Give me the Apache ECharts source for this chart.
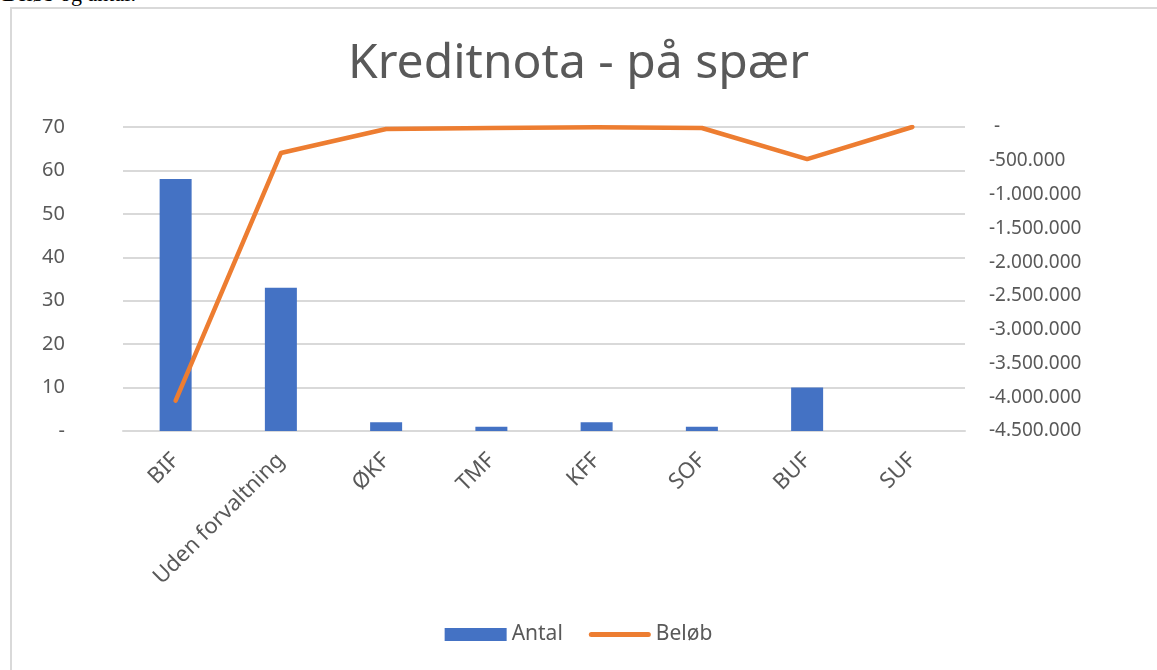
<!DOCTYPE html>
<html>
<head>
    <meta charset="utf-8">
    <title>Kreditnota - på spær</title>
    <style>
        html, body { margin: 0; padding: 0; background: #fff; overflow: hidden; }
        #note { position: absolute; left: 2px; top: -19px; font-family: "Liberation Serif", serif; font-size: 22px; color: #000; }
        #frame { position: absolute; left: 10px; top: 7px; width: 1170px; height: 680px; border: 2px solid #d9d9d9; box-sizing: border-box; }
        #main { position: absolute; left: 0; top: 0; width: 1157px; height: 670px; }
    </style>
</head>
<body>
<script src="https://cdn.jsdelivr.net/npm/echarts@6/dist/echarts.min.js" type="text/javascript" charset="utf-8"></script>
<div id="note">Beløb og antal:</div>
<div id="frame"></div>
<div id="main"></div>
<script type="text/javascript">
    // data
    var categories = ['BIF', 'Uden forvaltning', 'ØKF', 'TMF', 'KFF', 'SOF', 'BUF', 'SUF'];
    var antal = [58, 33, 2, 1, 2, 1, 10, 0];
    var beloeb = [-4050000, -385000, -30000, -15000, -5000, -15000, -475000, 0];

    var grey = '#595959';
    var font = '"Noto Sans", "Open Sans", sans-serif';

    function fmtDk(v) {
        if (v === 0) return ' -';
        var s = Math.abs(v).toString().replace(/\B(?=(\d{3})+(?!\d))/g, '.');
        return (v < 0 ? '-' : '') + s;
    }

    var myChart = echarts.init(document.getElementById('main'));

    var option = {
        animation: false,
        textStyle: { fontFamily: font },
        title: {
            text: 'Kreditnota - på spær',
            left: 'center',
            top: 35,
            textStyle: { fontSize: 48, fontWeight: 'normal', color: grey, fontFamily: font }
        },
        legend: {
            bottom: 20,
            left: 'center',
            itemWidth: 62,
            itemHeight: 13,
            itemGap: 26,
            textStyle: { fontSize: 21, color: grey },
            data: [
                { name: 'Antal', icon: 'rect' },
                { name: 'Beløb', icon: 'path://M2.5,0 L59.5,0 A2.5,2.5 0 0 1 59.5,5 L2.5,5 A2.5,2.5 0 0 1 2.5,0 Z' }
            ]
        },
        grid: { left: 123, right: 192, top: 127, bottom: 239 },
        xAxis: {
            type: 'category',
            data: categories,
            axisLine: { show: true, lineStyle: { color: '#d9d9d9', width: 2 } },
            axisTick: { show: false },
            axisLabel: { rotate: 45, fontSize: 22, color: grey, margin: 26, interval: 0 }
        },
        yAxis: [
            {
                type: 'value',
                min: 0,
                max: 70,
                interval: 10,
                axisLine: { show: false },
                axisTick: { show: false },
                splitLine: { lineStyle: { color: '#d9d9d9', width: 2 } },
                axisLabel: {
                    fontSize: 20, color: grey, margin: 58,
                    formatter: function (v) { return v === 0 ? '-' : v; }
                }
            },
            {
                type: 'value',
                min: -4500000,
                max: 0,
                interval: 500000,
                axisLine: { show: false },
                axisTick: { show: false },
                splitLine: { show: false },
                axisLabel: { fontSize: 19, color: grey, margin: 24, formatter: fmtDk }
            }
        ],
        series: [
            {
                name: 'Antal',
                type: 'bar',
                yAxisIndex: 0,
                barWidth: 32,
                itemStyle: { color: '#4472C4' },
                data: antal
            },
            {
                name: 'Beløb',
                type: 'line',
                yAxisIndex: 1,
                showSymbol: false,
                symbol: 'none',
                lineStyle: { color: '#ED7D31', width: 4.5, cap: 'round', join: 'round' },
                itemStyle: { color: '#ED7D31' },
                data: beloeb
            }
        ]
    };

    myChart.setOption(option);
</script>
</body>
</html>
